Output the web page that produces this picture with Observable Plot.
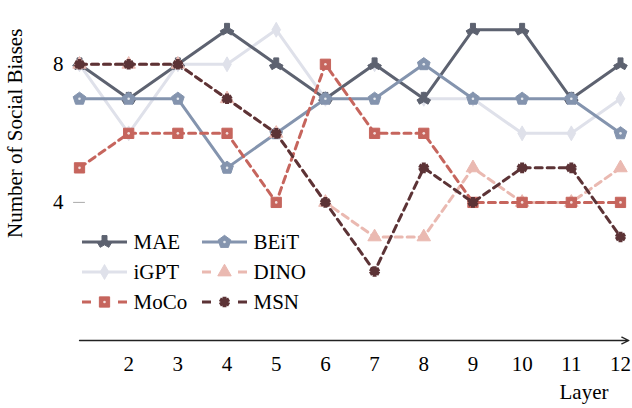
<!DOCTYPE html>
<html><head><meta charset="utf-8">
<script src="https://cdn.jsdelivr.net/npm/d3@7"></script>
<script src="https://cdn.jsdelivr.net/npm/@observablehq/plot@0.6"></script>
<style>
body{margin:0;background:#fff;}
</style>
</head><body><div id="chart"></div>
<script>
const layers = [1,2,3,4,5,6,7,8,9,10,11,12];
const xTicks = [2,3,4,5,6,7,8,9,10,11,12];
const yTicks = [4,8];
const mae  = [8,7,8,9,8,7,8,7,9,9,7,8];
const igpt = [8,6,8,8,9,7,8,7,7,6,6,7];
const beit = [7,7,7,5,6,7,7,8,7,7,7,6];
const dino = [8,8,8,7,6,4,3,3,5,4,4,5];
const moco = [5,6,6,6,4,8,6,6,4,4,4,4];
const msn  = [8,8,8,7,6,4,2,5,4,5,5,3];

const pentagon = {draw(ctx, size){
  const r = Math.sqrt(size/2.378);
  for(let i=0;i<5;i++){const a=-Math.PI/2+i*2*Math.PI/5; const px=r*Math.cos(a), py=r*Math.sin(a); i?ctx.lineTo(px,py):ctx.moveTo(px,py);} ctx.closePath();}};

const series = [
  {name:"iGPT", vals:igpt, color:"#dfe1ea", dash:null, symbol:"diamond", r:4.5, rotate:0, fill:true, inner:false},
  {name:"MAE", vals:mae, color:"#5d6270", dash:null, symbol:"wye", r:5.2, rotate:180, fill:true, inner:false},
  {name:"BEiT", vals:beit, color:"#8494ae", dash:null, symbol:pentagon, r:5.8, rotate:0, fill:true, inner:true},
  {name:"DINO", vals:dino, color:"#eab9b1", dash:"7,5", symbol:"triangle", r:5, rotate:0, fill:true, inner:false},
  {name:"MoCo", vals:moco, color:"#c6655d", dash:"7,5", symbol:"square", r:5.8, rotate:0, fill:true, inner:true},
  {name:"MSN", vals:msn, color:"#5c3336", dash:"7,5", symbol:"asterisk", r:5, rotate:0, fill:false, inner:false}
];
const legendOrder = ["MAE","BEiT","iGPT","DINO","MoCo","MSN"];

const marks = [];
for (const s of series) {
  const data = layers.map((l,i)=>({layer:l, v:s.vals[i]}));
  marks.push(Plot.line(data, {x:"layer", y:"v", stroke:s.color, strokeWidth:3, strokeDasharray:s.dash}));
  if (s.fill) {
    marks.push(Plot.dot(data, {x:"layer", y:"v", symbol:s.symbol, r:s.r, fill:s.color, stroke:s.color, strokeWidth:1, rotate:s.rotate}));
  } else {
    marks.push(Plot.dot(data, {x:"layer", y:"v", symbol:s.symbol, r:s.r, stroke:s.color, strokeWidth:4}));
  }
  if (s.inner) marks.push(Plot.dot(data, {x:"layer", y:"v", r:1.3, fill:"#fff", fillOpacity:0.8}));
}

// legend (positions relative to the frame's top-left corner)
const legendMarks = [];
legendOrder.forEach((nm,i)=>{
  const s = series.find(d=>d.name===nm);
  const col = i%2, row = Math.floor(i/2);
  const lx = (col ? 202 : 82) - 79, ly = 242 + row*30 - 12;
  legendMarks.push(Plot.text([nm], {frameAnchor:"top-left", textAnchor:"start", lineAnchor:"middle", dx:lx+51, dy:ly, fontSize:21, fill:"#000"}));
});

const chart = Plot.plot({
  width:632, height:408,
  marginLeft:79, marginRight:12, marginTop:12, marginBottom:68,
  x:{domain:[1,12]},
  y:{domain:[0,9.5]},
  style:{fontFamily:"Liberation Serif, serif", fontSize:"21px", color:"#000", background:"#fff"},
  marks:[
    Plot.ruleY(yTicks, {x1:0.88, x2:1.12, stroke:"#aaa", strokeWidth:1}),
    Plot.axisY(yTicks, {tickSize:0, tickPadding:16, fontSize:21, label:null}),
    Plot.axisX(xTicks, {tickSize:0, tickPadding:16, fontSize:21, label:null}),
    Plot.arrow([{x1:1, x2:12.17, y:0}], {x1:"x1", x2:"x2", y1:"y", y2:"y", stroke:"#222", strokeWidth:1.3, headLength:9, headAngle:50}),
    Plot.text(["Layer"], {x:12, y:0, textAnchor:"end", dx:-12, dy:52, fontSize:21}),
    Plot.text(["Number of Social Biases"], {x:1, y:6, rotate:-90, dx:-64, fontSize:21}),
    ...marks,
    ...legendMarks
  ]
});
document.getElementById("chart").appendChild(chart);

// legend samples
const svg = d3.select(chart);
const leg = svg.append("g");
legendOrder.forEach((nm,i)=>{
  const s = series.find(d=>d.name===nm);
  const col = i%2, row = Math.floor(i/2);
  const x0 = col ? 202 : 82, y0 = 242 + row*30;
  const g = leg.append("g").attr("transform",`translate(${x0},${y0})`);
  g.append("line").attr("x1",0).attr("x2",45).attr("stroke",s.color).attr("stroke-width",3).attr("stroke-dasharray",s.dash ? "9,27,9" : null);
  const sym = typeof s.symbol === "string" ? {diamond:d3.symbolDiamond, wye:d3.symbolWye, triangle:d3.symbolTriangle, square:d3.symbolSquare, asterisk:d3.symbolAsterisk}[s.symbol] : s.symbol;
  const p = g.append("path").attr("transform",`translate(22.5,0) rotate(${s.rotate})`).attr("d", d3.symbol(sym, Math.PI*s.r*s.r)());
  if (s.fill) p.attr("fill",s.color).attr("stroke",s.color); else p.attr("fill","none").attr("stroke",s.color).attr("stroke-width",4);
  if (s.inner) g.append("circle").attr("cx",22.5).attr("r",1.3).attr("fill","#fff").attr("fill-opacity",0.8);
});
</script></body></html>
